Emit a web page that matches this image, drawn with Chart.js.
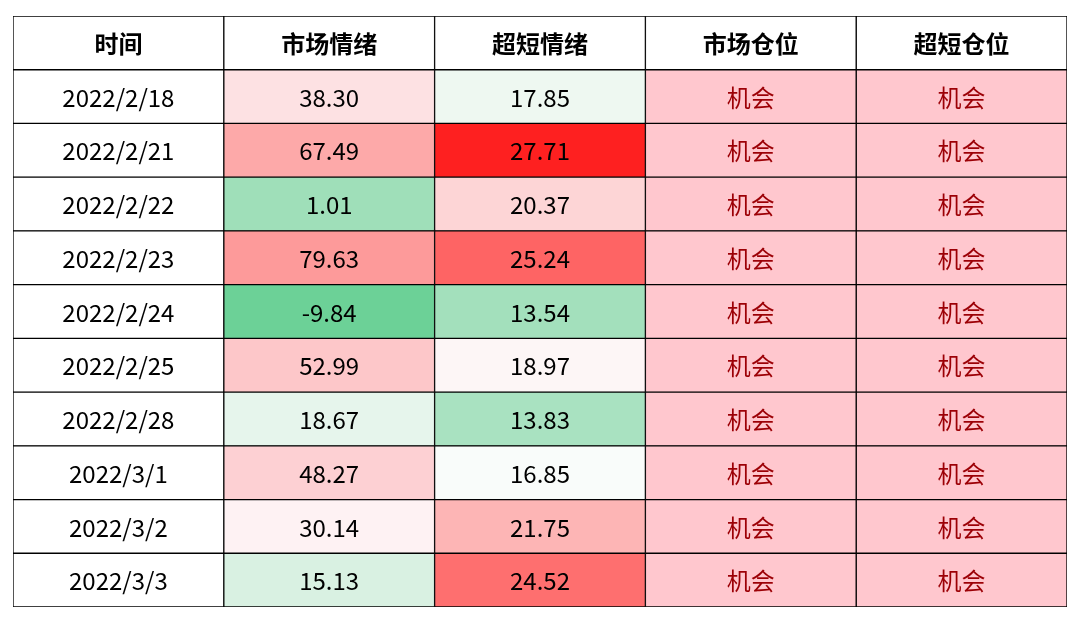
<!DOCTYPE html>
<html><head><meta charset="utf-8">
<script src="https://cdn.jsdelivr.net/npm/chart.js@4"></script>
<style>html,body{margin:0;padding:0;background:#fff}#w{width:1080px;height:620px}</style>
</head><body><div id="w"><canvas id="c"></canvas></div>
<script>
const headers = ['时间','市场情绪','超短情绪','市场仓位','超短仓位'];
const dates = ['2022/2/18','2022/2/21','2022/2/22','2022/2/23','2022/2/24','2022/2/25','2022/2/28','2022/3/1','2022/3/2','2022/3/3'];
const marketMood = [38.30,67.49,1.01,79.63,-9.84,52.99,18.67,48.27,30.14,15.13];
const shortMood = [17.85,27.71,20.37,25.24,13.54,18.97,13.83,16.85,21.75,24.52];
const marketPos = ['机会','机会','机会','机会','机会','机会','机会','机会','机会','机会'];
const shortPos = ['机会','机会','机会','机会','机会','机会','机会','机会','机会','机会'];

const marketColors = ['#fde1e3','#fda9a9','#9fdfb9','#fd9a9a','#6cd197','#fdc7c9','#e6f5ec','#fdd0d3','#fef2f3','#d9f1e2'];
const shortColors = ['#eef8f1','#fe2020','#fdd5d6','#fe6464','#a3e0bc','#fdf6f6','#a9e2c1','#f9fcfa','#fdb5b5','#fe6f6f'];
const posColor = '#ffc7ce';

const rows = ['header', ...dates];
const columns = [
  rows.map((r,i)=> i===0 ? headers[0] : dates[i-1]),
  rows.map((r,i)=> i===0 ? headers[1] : marketMood[i-1].toFixed(2)),
  rows.map((r,i)=> i===0 ? headers[2] : shortMood[i-1].toFixed(2)),
  rows.map((r,i)=> i===0 ? headers[3] : marketPos[i-1]),
  rows.map((r,i)=> i===0 ? headers[4] : shortPos[i-1])
];
const colColors = [
  rows.map(()=> '#ffffff'),
  rows.map((r,i)=> i===0 ? '#ffffff' : marketColors[i-1]),
  rows.map((r,i)=> i===0 ? '#ffffff' : shortColors[i-1]),
  rows.map((r,i)=> i===0 ? '#ffffff' : posColor),
  rows.map((r,i)=> i===0 ? '#ffffff' : posColor)
];

const datasets = columns.map((col,c)=>({
  data: rows.map(r=>({x:[c,c+1], y:r})),
  backgroundColor: colColors[c],
  borderColor: '#000',
  borderWidth: 1,
  borderSkipped: false,
  barPercentage: 1,
  categoryPercentage: 1,
  grouped: false,
  texts: col
}));

const textPlugin = {
  id:'cellText',
  afterDatasetsDraw(chart){
    const ctx = chart.ctx;
    ctx.save();
    ctx.textAlign='center'; ctx.textBaseline='middle';
    chart.data.datasets.forEach((ds,c)=>{
      chart.getDatasetMeta(c).data.forEach((el,i)=>{
        const x = (el.x + el.base)/2, y = el.y;
        if(i===0){ ctx.font='bold 24px "Noto Sans CJK SC"'; ctx.fillStyle='#000'; }
        else if(c>=3){ ctx.font='24px "Noto Sans CJK SC"'; ctx.fillStyle='#9c0006'; }
        else { ctx.font='24px "Noto Sans CJK SC"'; ctx.fillStyle='#000'; }
        ctx.fillText(ds.texts[i], x, y+1);
      });
    });
    ctx.restore();
  }
};

new Chart(document.getElementById('c'), {
  type:'bar',
  data:{labels:rows, datasets},
  options:{
    indexAxis:'y', responsive:true, maintainAspectRatio:false, animation:false,
    layout:{padding:{left:13,right:13,top:16,bottom:13}},
    plugins:{legend:{display:false}, tooltip:{enabled:false}},
    scales:{
      x:{type:'linear',min:0,max:5,display:false},
      y:{type:'category',display:false,offset:true}
    }
  },
  plugins:[textPlugin]
});
</script></body></html>
